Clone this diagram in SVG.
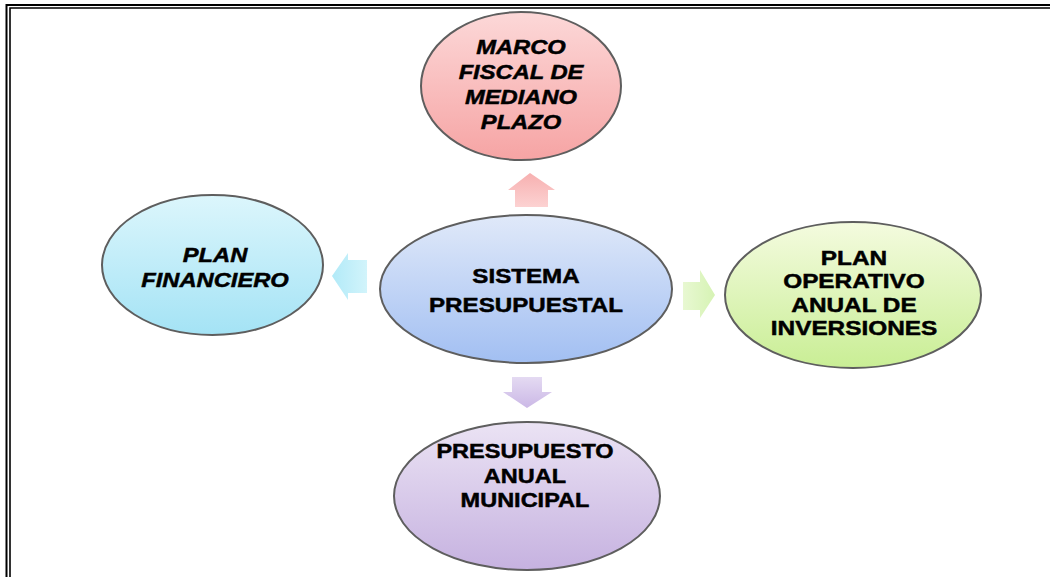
<svg xmlns="http://www.w3.org/2000/svg" width="1050" height="577" viewBox="0 0 1050 577">
<style>
.ell{stroke:#5e5e5e;stroke-width:2}
.t{font-family:"Liberation Sans",Arial,sans-serif;font-weight:bold;font-size:21px;fill:#000;stroke:#000;stroke-width:0.5;text-anchor:middle}
.i{font-style:italic}
.frame{fill:none;stroke:#000}
</style>
<defs>
<linearGradient id="gRed" x1="0" y1="0" x2="0" y2="1"><stop offset="0" stop-color="#fcd8d8"/><stop offset="1" stop-color="#f6a4a4"/></linearGradient>
<linearGradient id="gCyan" x1="0" y1="0" x2="0" y2="1"><stop offset="0" stop-color="#dcf6fc"/><stop offset="1" stop-color="#a4e3f5"/></linearGradient>
<linearGradient id="gBlue" x1="0" y1="0" x2="0" y2="1"><stop offset="0" stop-color="#e0e9f9"/><stop offset="1" stop-color="#a2bff2"/></linearGradient>
<linearGradient id="gGreen" x1="0" y1="0" x2="0" y2="1"><stop offset="0" stop-color="#f4fbdf"/><stop offset="1" stop-color="#c9ee95"/></linearGradient>
<linearGradient id="gPurple" x1="0" y1="0" x2="0" y2="1"><stop offset="0" stop-color="#ebe3f4"/><stop offset="1" stop-color="#c6b2e0"/></linearGradient>
<linearGradient id="aRed" x1="0" y1="0" x2="0" y2="1"><stop offset="0" stop-color="#f7b0b0"/><stop offset="1" stop-color="#fcd2d2"/></linearGradient>
<linearGradient id="aCyan" x1="0" y1="0" x2="1" y2="0"><stop offset="0" stop-color="#b2eaf8"/><stop offset="1" stop-color="#d2f4fb"/></linearGradient>
<linearGradient id="aGreen" x1="0" y1="0" x2="1" y2="0"><stop offset="0" stop-color="#e8f8d2"/><stop offset="1" stop-color="#d6f3b4"/></linearGradient>
<linearGradient id="aPurple" x1="0" y1="0" x2="0" y2="1"><stop offset="0" stop-color="#e4daf2"/><stop offset="1" stop-color="#cbb8e6"/></linearGradient>
</defs>
<rect width="1050" height="577" fill="#fff"/>
<g id="frame">
<path class="frame" stroke-width="2" d="M1050,5 H6.5 V577"/>
<path class="frame" stroke-width="1.6" d="M1050,8 H10 V577"/>
</g>
<g id="connectors">
<polygon fill="url(#aRed)" points="530,173 555,190 548,190 548,207 515,207 515,190 508,190"/>
<polygon fill="url(#aCyan)" points="332,276 348,253 348,260 367,260 367,293 348,293 348,300"/>
<polygon fill="url(#aGreen)" points="715,295 700,270 700,282 683,282 683,310 700,310 700,318"/>
<polygon fill="url(#aPurple)" points="527,408 552,392 542,392 542,377 512,377 512,392 503,392"/>
</g>
<g id="marco">
<ellipse class="ell" cx="521" cy="86" rx="100" ry="74" fill="url(#gRed)"/>
<g transform="translate(521,0) scale(1.13,1)">
<text class="t i" x="0" y="54">MARCO</text>
<text class="t i" x="0" y="79">FISCAL DE</text>
<text class="t i" x="0" y="104">MEDIANO</text>
<text class="t i" x="0" y="129">PLAZO</text>
</g>
</g>
<g id="plan-financiero">
<ellipse class="ell" cx="212.5" cy="265" rx="110.5" ry="70" fill="url(#gCyan)"/>
<g transform="translate(215,0) scale(1.13,1)">
<text class="t i" x="0" y="262">PLAN</text>
<text class="t i" x="0" y="287">FINANCIERO</text>
</g>
</g>
<g id="sistema">
<ellipse class="ell" cx="526" cy="289" rx="146" ry="74" fill="url(#gBlue)"/>
<g transform="translate(526,0) scale(1.15,1)">
<text class="t" x="0" y="283">SISTEMA</text>
<text class="t" x="0" y="312">PRESUPUESTAL</text>
</g>
</g>
<g id="poai">
<ellipse class="ell" cx="853" cy="295" rx="128" ry="73" fill="url(#gGreen)"/>
<g transform="translate(854,0) scale(1.16,1)">
<text class="t" x="0" y="265">PLAN</text>
<text class="t" x="0" y="288">OPERATIVO</text>
<text class="t" x="0" y="312">ANUAL DE</text>
<text class="t" x="0" y="335">INVERSIONES</text>
</g>
</g>
<g id="presupuesto">
<ellipse class="ell" cx="527" cy="496" rx="133" ry="74" fill="url(#gPurple)"/>
<g transform="translate(525,0) scale(1.12,1)">
<text class="t" x="0" y="458">PRESUPUESTO</text>
<text class="t" x="0" y="483">ANUAL</text>
<text class="t" x="0" y="507">MUNICIPAL</text>
</g>
</g>
</svg>
